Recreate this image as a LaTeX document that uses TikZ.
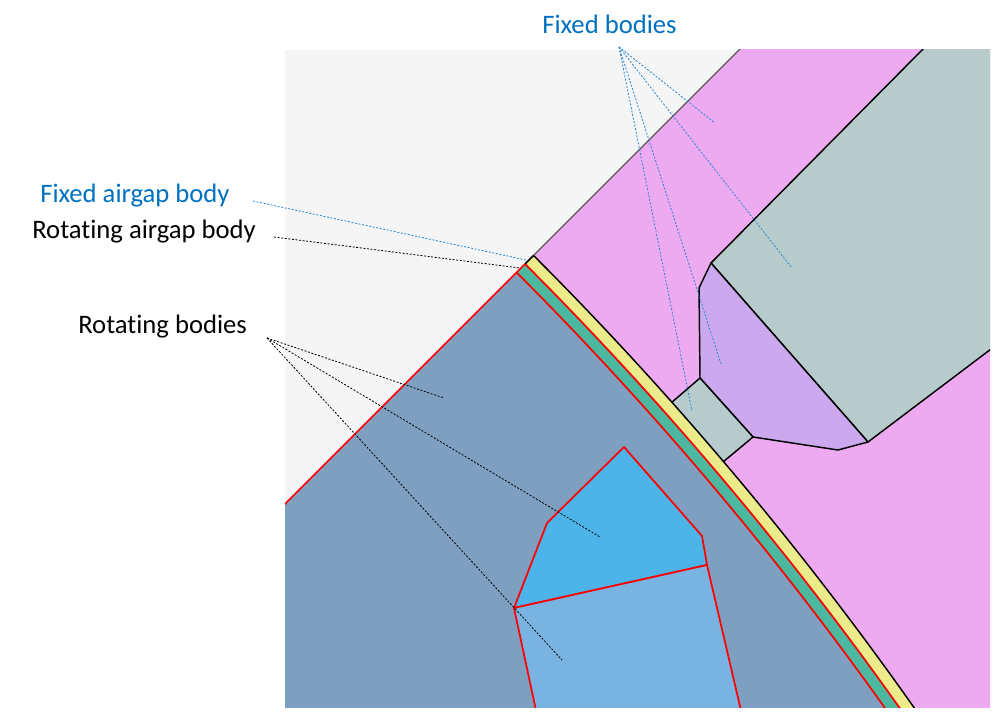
\documentclass[tikz,border=0pt]{standalone}
\usepackage{fontspec}
\setmainfont{Carlito}[Ligatures={NoCommon}]
\usetikzlibrary{calc}

\definecolor{bggray}{RGB}{245,245,245}
\definecolor{statorpink}{RGB}{238,170,240}
\definecolor{slotteal}{RGB}{184,203,204}
\definecolor{coilpurple}{RGB}{204,169,239}
\definecolor{gapyellow}{RGB}{235,235,139}
\definecolor{gapgreen}{RGB}{77,184,160}
\definecolor{rotorblue}{RGB}{127,159,193}
\definecolor{magnetblue}{RGB}{76,180,233}
\definecolor{magnetlight}{RGB}{121,179,226}
\definecolor{labelblue}{RGB}{0,112,192}
\definecolor{leadblue}{RGB}{40,135,210}

\begin{document}
\begin{tikzpicture}[x=0.75pt,y=0.75pt,
	outline/.style={draw=black,line width=1.1pt,line join=round},
	redline/.style={draw=red,line width=1.3pt,line join=round},
	callout/.style={font=\fontsize{20}{24}\selectfont,inner sep=0pt,anchor=base west},
	fixedlead/.style={draw=leadblue,line width=0.6pt,dash pattern=on 1.5pt off 1.2pt},
	rotlead/.style={draw=black,line width=0.6pt,dash pattern=on 1.5pt off 1.2pt}]
	\useasboundingbox (0,0) rectangle (998,715);

	% centre of rotation and airgap radii
	\coordinate (C) at (-1906,-1980);
	\def\rrot{3426}
	\def\rmid{3438}
	\def\rsta{3450}
	\coordinate (rotcorner) at ($(C)+(45:\rrot)$);
	\coordinate (midcorner) at ($(C)+(45:\rmid)$);
	\coordinate (stacorner) at ($(C)+(45:\rsta)$);

	\begin{scope}
	\clip (285,8) rectangle (990,665);
	\fill[bggray] (285,8) rectangle (990,665);
	% stator
	\fill[statorpink] (stacorner) arc[start angle=45,end angle=25,radius=\rsta]
		-- ++(25:1000) arc[start angle=25,end angle=45,radius=4450] -- cycle;
	\path[fill=slotteal,outline] (927,670) -- (711,452) -- (868,273) -- (995,369) -- (995,670) -- cycle;
	\path[fill=coilpurple,outline] (711,452) -- (699,427) -- (700,337) -- (753,278) -- (838,265) -- (868,273) -- cycle;
	\path[fill=slotteal,outline] (700,337) -- (753,278) -- (723,253) -- (671,312) -- cycle;
	% airgap bands
	\fill[gapyellow] (midcorner) arc[start angle=45,end angle=25,radius=\rmid]
		-- ($(C)+(25:\rsta)$) arc[start angle=25,end angle=45,radius=\rsta] -- cycle;
	\fill[gapgreen] (rotcorner) arc[start angle=45,end angle=25,radius=\rrot]
		-- ($(C)+(25:\rmid)$) arc[start angle=25,end angle=45,radius=\rmid] -- cycle;
	% rotor and magnets
	\fill[rotorblue] (C) -- (rotcorner) arc[start angle=45,end angle=25,radius=\rrot] -- cycle;
	\path[fill=magnetblue,redline] (624,268) -- (547,192) -- (514,107) -- (707,150) -- (702,179) -- cycle;
	\path[fill=magnetlight,redline] (514,107) -- (707,150) -- (742,0) -- (537,0) -- cycle;
	% edges
	\draw[redline] (C) -- (rotcorner) arc[start angle=45,end angle=25,radius=\rrot];
	\draw[redline] (rotcorner) -- (midcorner) arc[start angle=45,end angle=25,radius=\rmid];
	\draw[outline] (midcorner) -- (stacorner) arc[start angle=45,end angle=25,radius=\rsta];
	\draw[draw=black!65,line width=1pt] (stacorner) -- ($(C)+(45:4450)$);
	\end{scope}

	% labels
	\node[callout,text=labelblue] (fixedlbl) at (542,681) {Fixed bodies};
	\node[callout,text=labelblue] (airfixlbl) at (40,512) {Fixed airgap body};
	\node[callout] (airrotlbl) at (32,476) {Rotating airgap body};
	\node[callout] (rotlbl) at (78,382) {Rotating bodies};

	% leaders
	\coordinate (fixhub) at (619,668);
	\coordinate (fixA) at (715,592);
	\coordinate (fixB) at (792,447);
	\coordinate (fixC) at (721,351);
	\coordinate (fixD) at (692,304);
	\coordinate (airfixS) at (253,514);
	\coordinate (airfixE) at (526,455);
	\coordinate (airrotS) at (274,478);
	\coordinate (airrotE) at (520,447);
	\coordinate (rothub) at (267,377);
	\coordinate (rotA) at (444,317);
	\coordinate (rotB) at (600,178);
	\coordinate (rotC) at (562,55);
	\foreach \e in {fixA,fixB,fixC,fixD}
		\draw[fixedlead] (fixhub) -- (\e);
	\draw[fixedlead] (airfixS) -- (airfixE);
	\draw[rotlead] (airrotS) -- (airrotE);
	\foreach \e in {rotA,rotB,rotC}
		\draw[rotlead] (rothub) -- (\e);
\end{tikzpicture}
\end{document}
